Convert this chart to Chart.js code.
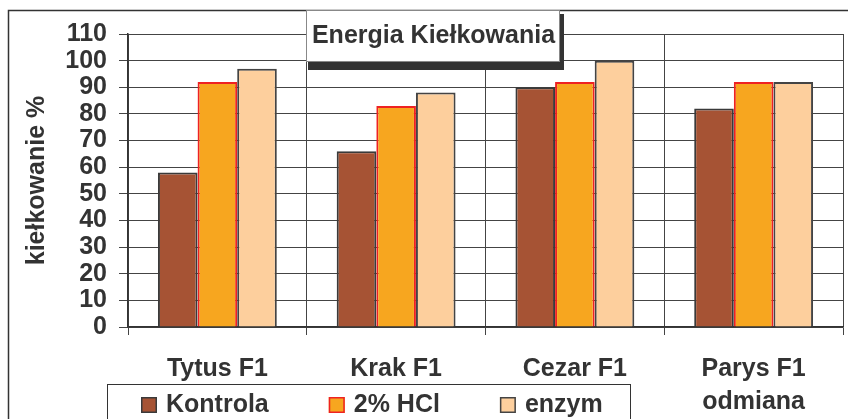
<!DOCTYPE html>
<html>
<head>
<meta charset="utf-8">
<script src="https://cdn.jsdelivr.net/npm/chart.js@4.4.1/dist/chart.umd.min.js"></script>
<style>
html, body { margin: 0; padding: 0; background: #fff; }
canvas { display: block; }
</style>
</head>
<body>
<canvas id="chart" width="848" height="419"></canvas>
<script>
// data
var categories = ["Tytus F1", "Krak F1", "Cezar F1", "Parys F1"];
var kontrola = [58, 66, 90, 82];
var hcl = [92, 83, 92, 92];
var enzym = [97, 88, 100, 92];
var seriesNames = ["Kontrola", "2% HCl", "enzym"];
var yMin = 0, yMax = 110, yStep = 10;
var chartTitle = "Energia Kiełkowania";
var yTitle = "kiełkowanie %";
var xTitle = "odmiana";

var FONT = "'Liberation Sans', Arial, sans-serif";
var TXT = "#333333";
var SIZE = 25;

var decor = {
    id: "decor",
    beforeDraw: function (chart) {
        var ctx = chart.ctx;
        ctx.save();
        ctx.fillStyle = "#fff";
        ctx.fillRect(0, 0, chart.width, chart.height);
        ctx.restore();
    },
    afterDraw: function (chart) {
        var ctx = chart.ctx;
        ctx.save();

        // outer frame
        ctx.strokeStyle = "#333";
        ctx.lineWidth = 1.5;
        ctx.strokeRect(8.5, 10.5, 900, 500);

        // title box with shadow
        var bx = 306, by = 10, bw = 253, bh = 51;
        ctx.fillStyle = "#333";
        ctx.fillRect(bx + 2, by + 4, bw + 3, bh + 5);
        ctx.fillStyle = "#fff";
        ctx.fillRect(bx, by, bw, bh);
        ctx.strokeStyle = "#888";
        ctx.lineWidth = 1;
        ctx.strokeRect(bx + 0.5, by + 0.5, bw, bh);
        ctx.fillStyle = TXT;
        ctx.font = "bold " + SIZE + "px " + FONT;
        ctx.textAlign = "center";
        ctx.textBaseline = "middle";
        ctx.fillText(chartTitle, bx + bw / 2 + 1, 36);

        // y axis title
        var area = chart.chartArea;
        ctx.save();
        ctx.translate(37, (area.top + area.bottom) / 2);
        ctx.rotate(-Math.PI / 2);
        ctx.fillText(yTitle, 0, 0);
        ctx.restore();

        // x axis title under the last category
        var xs = chart.scales.x;
        ctx.fillText(xTitle, xs.getPixelForValue(categories.length - 1), 402);

        // legend box
        ctx.strokeStyle = "#333";
        ctx.lineWidth = 1;
        ctx.strokeRect(107.5, 384.5, 523, 60);
        var lx = 141;
        ctx.textAlign = "left";
        chart.data.datasets.forEach(function (ds) {
            ctx.fillStyle = ds.backgroundColor;
            ctx.fillRect(lx, 397, 16, 16);
            ctx.strokeStyle = ds.borderColor;
            ctx.lineWidth = 1.5;
            ctx.strokeRect(lx + 0.75, 397.75, 14.5, 14.5);
            ctx.fillStyle = TXT;
            ctx.fillText(ds.label, lx + 25, 405);
            lx += 25 + ctx.measureText(ds.label).width + 60;
        });
        ctx.restore();
    }
};

var ctx = document.getElementById("chart").getContext("2d");
var chart = new Chart(ctx, {
    type: "bar",
    data: {
        labels: categories,
        datasets: [
            { label: seriesNames[0], data: kontrola, backgroundColor: "#A65334", borderColor: "#3a3a3a", borderWidth: 2 },
            { label: seriesNames[1], data: hcl, backgroundColor: "#F7A61F", borderColor: "#EE2222", borderWidth: 2 },
            { label: seriesNames[2], data: enzym, backgroundColor: "#FDCF9D", borderColor: "#444444", borderWidth: 2 }
        ]
    },
    options: {
        responsive: false,
        animation: false,
        devicePixelRatio: 1,
        layout: { padding: { top: 34, right: 5, left: 0, bottom: 0 } },
        datasets: {
            bar: { barPercentage: 1, categoryPercentage: 0.665 }
        },
        plugins: {
            legend: { display: false },
            title: { display: false },
            tooltip: { enabled: false }
        },
        scales: {
            x: {
                grid: { color: "#444", lineWidth: 1, tickLength: 8, offset: true },
                border: { color: "#333", width: 1.5 },
                ticks: { color: TXT, font: { family: FONT, size: SIZE, weight: "bold" }, padding: 19, maxRotation: 0 },
                afterFit: function (s) { s.height = 92; }
            },
            y: {
                min: yMin,
                max: yMax,
                grid: { color: "#444", lineWidth: 1, tickLength: 9 },
                border: { color: "#333", width: 1.5 },
                ticks: { stepSize: yStep, autoSkip: false, color: TXT, font: { family: FONT, size: SIZE, weight: "bold" }, padding: 12 },
                afterFit: function (s) { s.width = 128; }
            }
        }
    },
    plugins: [decor]
});
</script>
</body>
</html>
